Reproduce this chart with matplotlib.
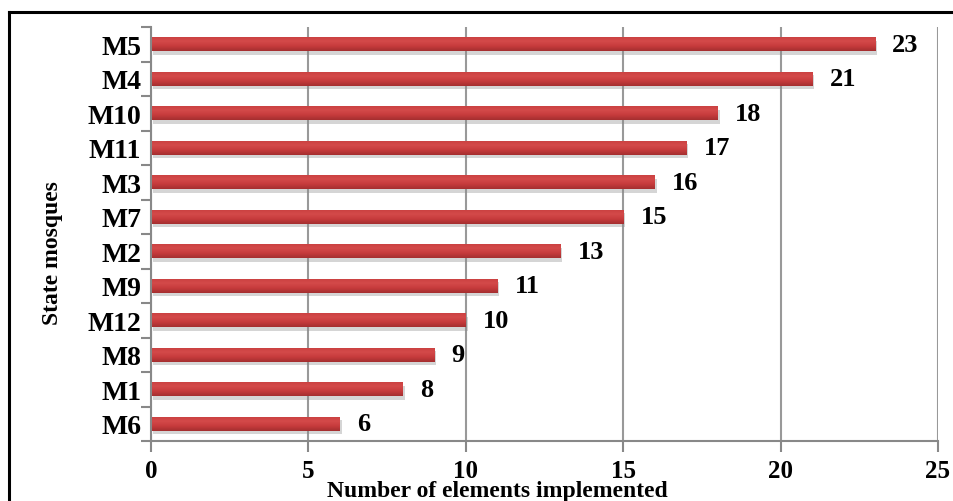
import numpy as np
import matplotlib.pyplot as plt
import matplotlib.patheffects as pe
from matplotlib.lines import Line2D
from matplotlib.colors import LinearSegmentedColormap

# data, top to bottom as in the chart
mosques = ['M5', 'M4', 'M10', 'M11', 'M3', 'M7', 'M2', 'M9', 'M12', 'M8', 'M1', 'M6']
elements = [23, 21, 18, 17, 16, 15, 13, 11, 10, 9, 8, 6]
xticks = [0, 5, 10, 15, 20, 25]

plt.rcParams['font.family'] = ['Liberation Serif', 'DejaVu Serif']
plt.rcParams['font.weight'] = 'bold'

fig = plt.figure(figsize=(9.54, 5.02), dpi=100)
ax = fig.add_axes([151/954, 1-442/502, (938-151)/954, (442-28)/502])

ypos = np.arange(len(mosques))[::-1]
bars = ax.barh(ypos, elements, height=0.41, color='#c63b3c', zorder=3)
for b in bars:
    b.set_path_effects([pe.SimplePatchShadow(offset=(1.5, -2.5), shadow_rgbFace='#888888', alpha=0.35), pe.Normal()])

# vertical gradient inside each bar (lighter on top, darker below)
grad = LinearSegmentedColormap.from_list('barred', ['#a52f30', '#c63b3c', '#d44a4a', '#c94040'])
for b in bars:
    x0, y0 = b.get_x(), b.get_y()
    w, h = b.get_width(), b.get_height()
    im = ax.imshow(np.linspace(0, 1, 32).reshape(-1, 1), cmap=grad, aspect='auto',
                   extent=[x0, x0 + w, y0, y0 + h], origin='lower', zorder=3.1)
    im.set_clip_path(b)

for y, v in zip(ypos, elements):
    ax.text(v + 0.55, y, str(v), va='center', ha='left', fontsize=19, fontweight='bold')

ax.set_xlim(0, 25)
ax.set_ylim(-0.5, len(mosques) - 0.5)
ax.set_xticks(xticks)
ax.set_xticklabels([str(t) for t in xticks], fontsize=18, fontweight='bold')
ax.set_yticks(ypos)
ax.set_yticklabels(mosques, fontsize=20, fontweight='bold')
ax.tick_params(axis='y', length=0, pad=7)
ax.tick_params(axis='x', length=8, width=1.5, color='#888888', pad=5)
# category boundary ticks on y
ax.set_yticks(np.arange(-0.5, len(mosques)), minor=True)
ax.tick_params(axis='y', which='minor', length=7, width=1.5, color='#888888')

ax.grid(axis='x', color='#999999', lw=1.5, zorder=3.5)
ax.set_axisbelow(False)
for s in ['top', 'right']:
    ax.spines[s].set_visible(False)
for s in ['left', 'bottom']:
    ax.spines[s].set_color('#888888')
    ax.spines[s].set_linewidth(1.5)
    ax.spines[s].set_zorder(4)

ax.set_xlabel('Number of elements implemented', fontsize=17, fontweight='bold')
ax.set_ylabel('State mosques', fontsize=17, fontweight='bold')
ax.xaxis.set_label_coords((497-151)/787, (442-492)/414)
ax.xaxis.label.set_va('center')
ax.yaxis.set_label_coords((52-151)/787, (442-253)/414)
ax.yaxis.label.set_va('center')
ax.yaxis.label.set_ha('center')

# outer frame (left and top edges visible)
fig.add_artist(Line2D([9/954, 9/954], [0, 1-13/502], transform=fig.transFigure, color='black', lw=2.2))
fig.add_artist(Line2D([9/954, 1], [1-13/502, 1-13/502], transform=fig.transFigure, color='black', lw=2.2))

fig.savefig('out.png', dpi=100)
